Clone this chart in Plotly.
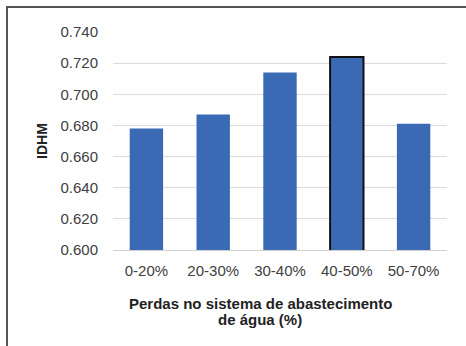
import plotly.graph_objects as go

# Faixas de perdas e IDHM médio por faixa
categorias = ["0-20%", "20-30%", "30-40%", "40-50%", "50-70%"]
idhm = [0.678, 0.687, 0.714, 0.724, 0.681]
destaque = [0, 0, 0, 2, 0]  # espessura do contorno (barra 40-50% realçada)
titulo_x = ["Perdas no sistema de abastecimento", "de água (%)"]

fig = go.Figure(
    go.Bar(
        x=categorias,
        y=idhm,
        marker=dict(
            color="#3A6AB4",
            line=dict(color="#111111", width=destaque),
        ),
    )
)

W, H = 466, 346
ml, mr, mt, mb = 113, 19, 32, 96
pw, ph = W - ml - mr, H - mt - mb


def px_x(p):
    return (p - ml) / pw


def px_y(p):
    return (H - mb - p) / ph


FONTE = "Liberation Sans, Arial, sans-serif"

fig.update_layout(
    width=W,
    height=H,
    margin=dict(l=ml, r=mr, t=mt, b=mb),
    paper_bgcolor="white",
    plot_bgcolor="white",
    bargap=0.5,
    showlegend=False,
    font=dict(family=FONTE, size=15, color="#404040"),
    xaxis=dict(
        showgrid=False,
        showline=True,
        linecolor="#d0d0d0",
        linewidth=1,
        ticks="",
        ticklabelstandoff=7,
        tickfont=dict(size=15, color="#404040"),
    ),
    yaxis=dict(
        range=[0.6, 0.74],
        tickvals=[0.60, 0.62, 0.64, 0.66, 0.68, 0.70, 0.72, 0.74],
        tickformat=".3f",
        showgrid=True,
        gridcolor="#dcdcdc",
        gridwidth=1,
        zeroline=False,
        showline=False,
        ticks="",
        ticklabelstandoff=14,
        tickfont=dict(size=15, color="#404040"),
        title=dict(
            text="<b>IDHM</b>",
            font=dict(size=14, color="#222222"),
            standoff=9,
        ),
    ),
    annotations=[
        dict(
            text=f"<b>{linha}</b>",
            xref="paper",
            yref="paper",
            x=px_x(260),
            y=px_y(py),
            xanchor="center",
            yanchor="middle",
            showarrow=False,
            font=dict(size=15, color="#222222"),
        )
        for linha, py in zip(titulo_x, [303, 319])
    ],
    shapes=[
        dict(type="line", xref="paper", yref="paper",
             x0=px_x(7), x1=px_x(7), y0=px_y(6), y1=px_y(350),
             line=dict(color="#555555", width=2)),
        dict(type="line", xref="paper", yref="paper",
             x0=px_x(6), x1=px_x(470), y0=px_y(7), y1=px_y(7),
             line=dict(color="#555555", width=2)),
    ],
)

fig.write_html("out.html")
